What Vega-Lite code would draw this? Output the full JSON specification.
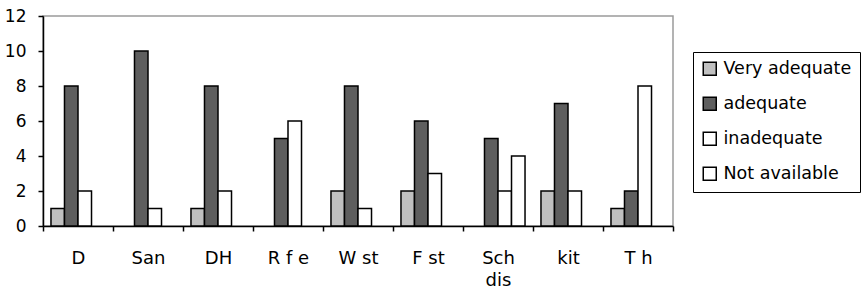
{
  "$schema": "https://vega.github.io/schema/vega-lite/v6.json",
  "autosize": {"type": "none"},
  "width": 630,
  "height": 210,
  "padding": {"left": 43, "top": 16, "right": 191, "bottom": 68},
  "background": "white",
  "config": {
    "view": {"stroke": "#9a9a9a", "strokeWidth": 1.5},
    "font": "DejaVu Sans"
  },
  "data": {
    "values": [
      {"cat": "D", "series": "Very adequate", "value": 1},
      {"cat": "D", "series": "adequate", "value": 8},
      {"cat": "D", "series": "inadequate", "value": 2},
      {"cat": "San", "series": "adequate", "value": 10},
      {"cat": "San", "series": "inadequate", "value": 1},
      {"cat": "DH", "series": "Very adequate", "value": 1},
      {"cat": "DH", "series": "adequate", "value": 8},
      {"cat": "DH", "series": "inadequate", "value": 2},
      {"cat": "R f e", "series": "adequate", "value": 5},
      {"cat": "R f e", "series": "inadequate", "value": 6},
      {"cat": "W st", "series": "Very adequate", "value": 2},
      {"cat": "W st", "series": "adequate", "value": 8},
      {"cat": "W st", "series": "inadequate", "value": 1},
      {"cat": "F st", "series": "Very adequate", "value": 2},
      {"cat": "F st", "series": "adequate", "value": 6},
      {"cat": "F st", "series": "inadequate", "value": 3},
      {"cat": "Sch dis", "series": "adequate", "value": 5},
      {"cat": "Sch dis", "series": "inadequate", "value": 2},
      {"cat": "Sch dis", "series": "Not available", "value": 4},
      {"cat": "kit", "series": "Very adequate", "value": 2},
      {"cat": "kit", "series": "adequate", "value": 7},
      {"cat": "kit", "series": "inadequate", "value": 2},
      {"cat": "T h", "series": "Very adequate", "value": 1},
      {"cat": "T h", "series": "adequate", "value": 2},
      {"cat": "T h", "series": "inadequate", "value": 8}
    ]
  },
  "mark": {"type": "bar", "stroke": "black", "strokeWidth": 1.5, "opacity": 1},
  "encoding": {
    "x": {
      "field": "cat",
      "type": "nominal",
      "sort": ["D", "San", "DH", "R f e", "W st", "F st", "Sch dis", "kit", "T h"],
      "scale": {"paddingInner": 0, "paddingOuter": 0},
      "axis": {
        "title": null,
        "labelAngle": 0,
        "tickBand": "extent",
        "domainColor": "black",
        "domainWidth": 1.5,
        "tickColor": "black",
        "tickWidth": 1.5,
        "tickSize": 5,
        "labelPadding": 18,
        "labelFontSize": 18,
        "labelColor": "black",
        "labelBaseline": "top",
        "labelLineHeight": 22,
        "labelExpr": "datum.label == 'Sch dis' ? ['Sch', 'dis'] : datum.label"
      }
    },
    "xOffset": {
      "field": "series",
      "type": "nominal",
      "scale": {
        "domain": ["Very adequate", "adequate", "inadequate", "Not available"],
        "paddingInner": 0,
        "paddingOuter": 0.59
      }
    },
    "y": {
      "field": "value",
      "type": "quantitative",
      "scale": {"domain": [0, 12], "nice": false},
      "axis": {
        "title": null,
        "values": [0, 2, 4, 6, 8, 10, 12],
        "grid": false,
        "domainColor": "black",
        "domainWidth": 1.5,
        "tickColor": "black",
        "tickWidth": 1.5,
        "tickSize": 5,
        "labelPadding": 12,
        "labelFontSize": 17,
        "labelColor": "black"
      }
    },
    "fill": {
      "field": "series",
      "type": "nominal",
      "scale": {
        "domain": ["Very adequate", "adequate", "inadequate", "Not available"],
        "range": ["#c0c0c0", "#5e5e5e", "#ffffff", "#ffffff"]
      },
      "legend": {
        "title": null,
        "orient": "none",
        "legendX": 650,
        "legendY": 36,
        "padding": 8,
        "strokeColor": "black",
        "symbolType": "square",
        "symbolSize": 169,
        "symbolStrokeColor": "black",
        "symbolStrokeWidth": 1.5,
        "symbolOpacity": 1,
        "rowPadding": 15,
        "labelFontSize": 17.5,
        "labelColor": "black",
        "labelOffset": 5,
        "labelLimit": 300
      }
    }
  }
}
